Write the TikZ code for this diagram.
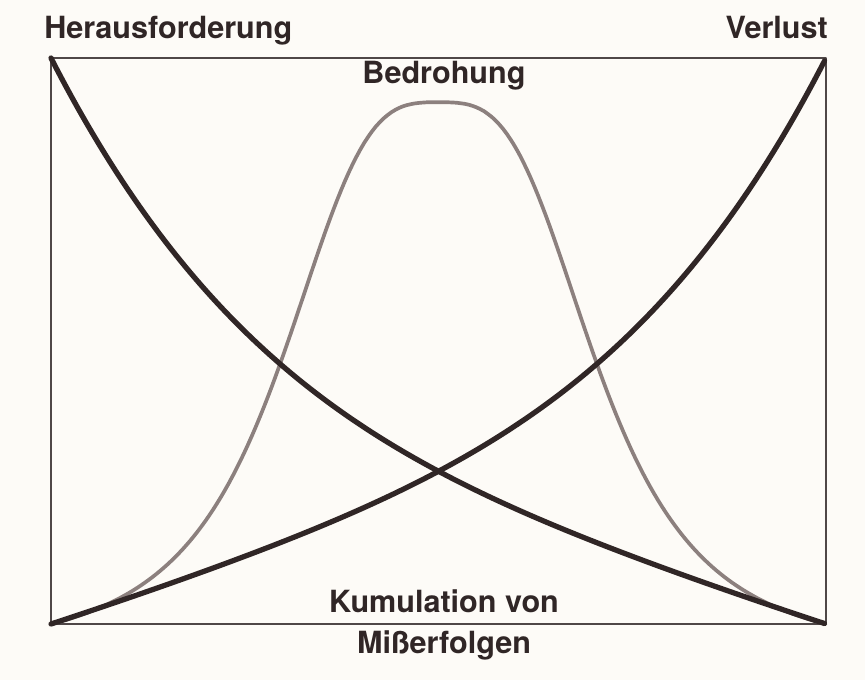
\documentclass[tikz,border=0pt]{standalone}
\usepackage{fontspec}
\setmainfont{TeX Gyre Heros}
\definecolor{ink}{RGB}{48,38,38}
\definecolor{bellgray}{RGB}{140,128,126}
\definecolor{paper}{RGB}{253,251,247}
\begin{document}
\begin{tikzpicture}[line cap=round, line join=round, font=\fontsize{17.4}{19}\selectfont\bfseries, every node/.style={inner sep=0pt, text=ink}]
				\useasboundingbox[fill=paper] (-1.02,-1.12) rectangle (16.28,12.48);
				\path (0,0) coordinate (A)
				(15.5,0) coordinate (B)
				(15.5,11.32) coordinate (C) (0,11.32) coordinate (D);
				\draw[ink!85, line width=0.9pt] (A)--(B)--(C)--(D)--cycle;
				% curves in frame units
				\begin{scope}[x=15.5cm, y=11.32cm]
				\draw[bellgray, line width=2.1pt] plot[domain=0:1, samples=201] (\x, {0.922*(1/(1+((abs(\x-0.5)+0.0001)/0.212)^3.2)-0.0604)/0.9396});
				\foreach \s in {0,1} \draw[ink, line width=3pt] plot[domain=0:1, samples=150] (\x, {0.45*abs(\s-\x)+0.1*abs(\s-\x)^2+0.45*abs(\s-\x)^4*sqrt(abs(\s-\x))});
				\end{scope}
				\node[anchor=base west] (hf) at (-0.14,11.7) {Herausforderung};
				\node[anchor=base east] (vl) at (15.54,11.7) {Verlust};
				\node[anchor=base] (bd) at (7.86,10.8) {Bedrohung};
				\node[anchor=base] (km) at (7.86,0.24) {Kumulation von};
				\node[anchor=base] (mf) at (7.86,-0.58) {Mißerfolgen};
			\end{tikzpicture}
\end{document}
